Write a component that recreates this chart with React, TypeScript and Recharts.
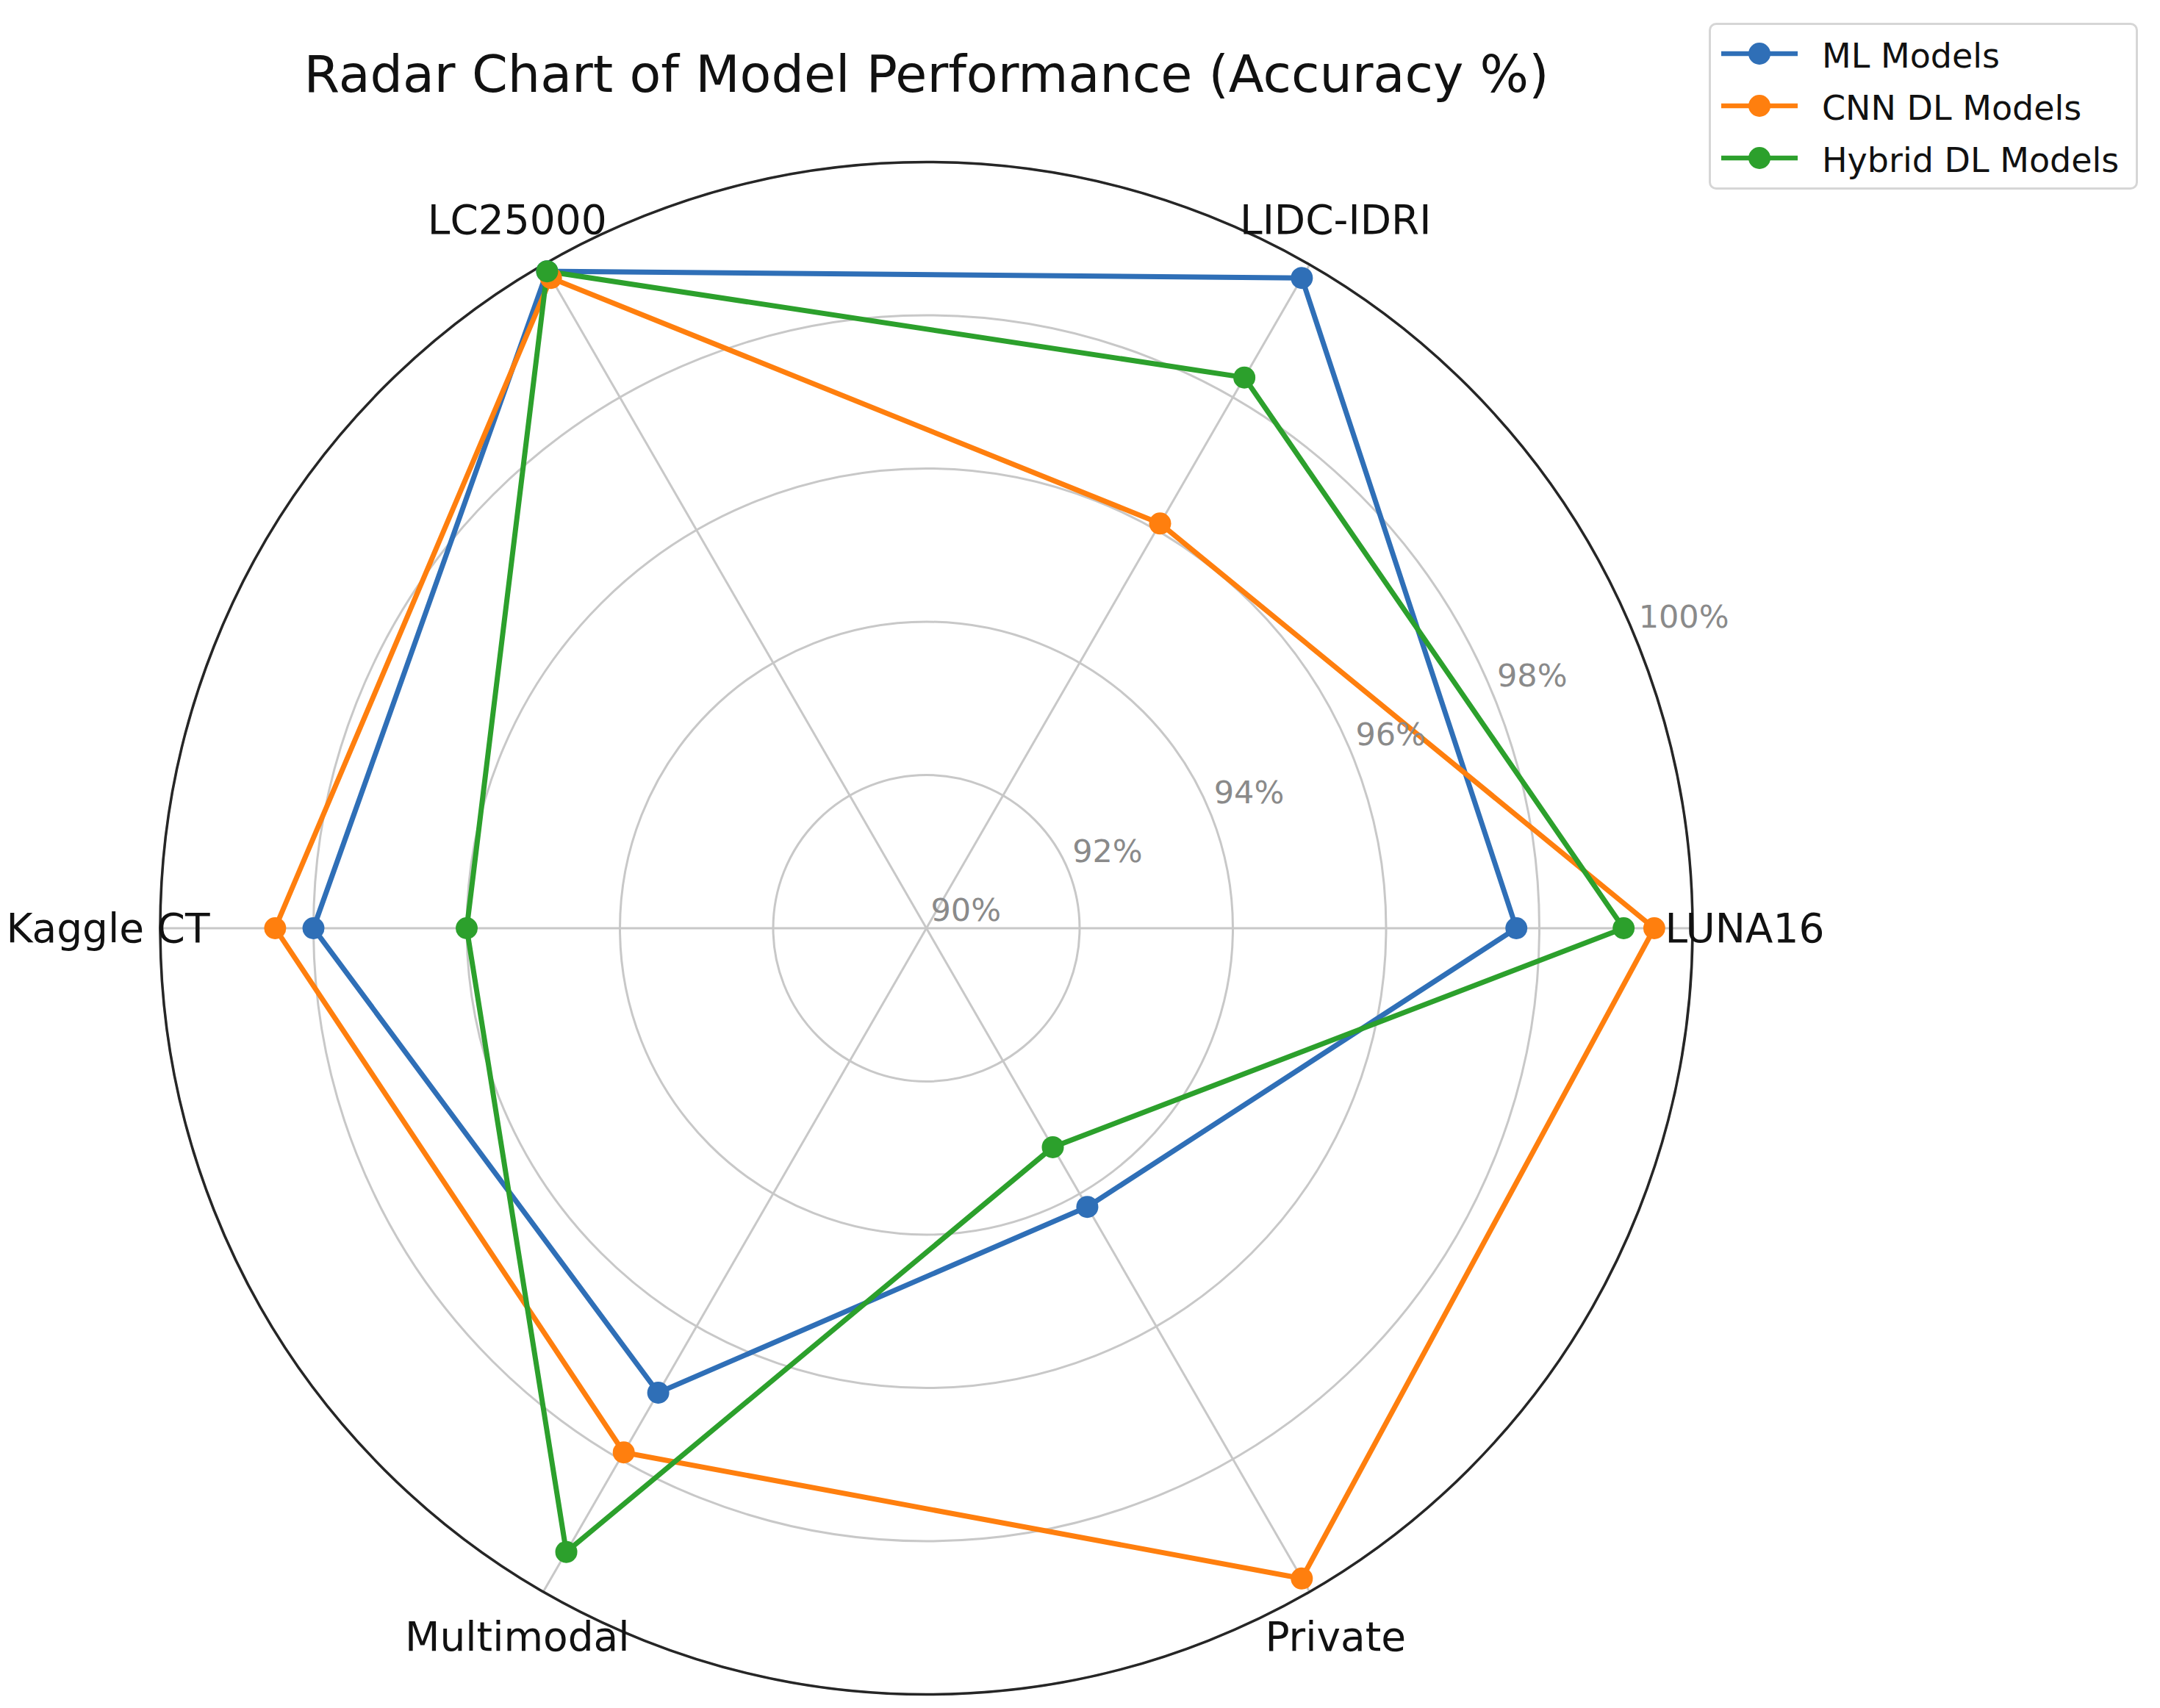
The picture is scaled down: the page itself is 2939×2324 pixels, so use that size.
import React from 'react';
import { RadarChart, Radar, PolarGrid, PolarAngleAxis, PolarRadiusAxis } from 'recharts';

// datasets in drawing order: start at the right (LUNA16) and go clockwise
// (the reference goes counter-clockwise LUNA16 -> LIDC-IDRI -> LC25000 ...)
const datasets = ['LUNA16', 'Private', 'Multimodal', 'Kaggle CT', 'LC25000', 'LIDC-IDRI'];

// accuracy % per dataset, same order as above
const mlModels = [97.7, 94.2, 97.0, 98.0, 99.9, 99.8];
const cnnModels = [99.5, 99.8, 97.9, 98.5, 99.8, 96.1];
const hybridModels = [99.1, 93.3, 99.4, 96.0, 99.9, 98.3];

const radialTicks = [90, 92, 94, 96, 98, 100];

const series = [
  { key: 'ml', label: 'ML Models', color: '#2f6fb7', values: mlModels },
  { key: 'cnn', label: 'CNN DL Models', color: '#ff7f0e', values: cnnModels },
  { key: 'hybrid', label: 'Hybrid DL Models', color: '#2ca02c', values: hybridModels },
];

const chartData = datasets.map((name, i) => {
  const row: any = { name };
  series.forEach(s => {
    row[s.key] = s.values[i];
  });
  return row;
});

const FONT = '"DejaVu Sans", Verdana, sans-serif';
const W = 2923;
const H = 2308;
const CX = 1252.5;
const CY = 1255;
const R = 1042.5;

const AngleTick = (props: any) => {
  const { x, y, payload } = props;
  return (
    <text
      x={x}
      y={y}
      textAnchor="middle"
      dominantBaseline="central"
      fontSize={55}
      fontFamily={FONT}
      fill="#111"
    >
      {payload.value}
    </text>
  );
};

const RadiusTick = (props: any) => {
  const { x, y, payload } = props;
  return (
    <text
      x={x + 6}
      y={y - 25}
      textAnchor="start"
      dominantBaseline="central"
      fontSize={43}
      fontFamily={FONT}
      fill="#8a8a8a"
    >
      {`${payload.value}%`}
    </text>
  );
};

const makeDot = (color: string) => (props: any) => (
  <circle key={`dot-${props.index}`} cx={props.cx} cy={props.cy} r={15} fill={color} />
);

const LegendBox = () => (
  <div
    style={{
      position: 'absolute',
      left: 2317,
      top: 23,
      width: 584,
      height: 227,
      boxSizing: 'border-box',
      border: '3px solid #d6d6d6',
      borderRadius: 10,
      background: '#fff',
      paddingTop: 3,
      paddingLeft: 14,
      fontFamily: FONT,
    }}
  >
    {series.map(s => (
      <div key={s.key} style={{ display: 'flex', alignItems: 'center', height: 71 }}>
        <svg width={104} height={40} style={{ flex: 'none' }}>
          <line x1={0} y1={20} x2={104} y2={20} stroke={s.color} strokeWidth={6.5} />
          <circle cx={52} cy={20} r={15} fill={s.color} />
        </svg>
        <span style={{ marginLeft: 33, fontSize: 46, color: '#111', paddingTop: 6, whiteSpace: 'nowrap' }}>
          {s.label}
        </span>
      </div>
    ))}
  </div>
);

export default function App() {
  return (
    <div style={{ position: 'relative', width: W, height: H, background: '#fff' }}>
      <div
        style={{
          position: 'absolute',
          left: CX - 1200,
          width: 2400,
          top: 58,
          textAlign: 'center',
          fontFamily: FONT,
          fontSize: 70,
          lineHeight: 1,
          color: '#111',
          whiteSpace: 'nowrap',
        }}
      >
        Radar Chart of Model Performance (Accuracy %)
      </div>
      <RadarChart
        width={W}
        height={H}
        data={chartData}
        cx={CX}
        cy={CY}
        outerRadius={R}
        startAngle={0}
        endAngle={-360}
        margin={{ top: 0, right: 0, bottom: 0, left: 0 }}
      >
        <PolarGrid gridType="circle" stroke="#c8c8c8" strokeWidth={3} />
        <PolarRadiusAxis
          type="number"
          angle={22.5}
          domain={[90, 100]}
          ticks={radialTicks}
          tickCount={6}
          axisLine={false}
          tick={RadiusTick}
        />
        <PolarAngleAxis
          dataKey="name"
          tick={AngleTick}
          tickLine={false}
          tickSize={71}
          axisLine={{ stroke: '#262626', strokeWidth: 3.5 }}
          axisLineType="circle"
        />
        {series.map(s => (
          <Radar
            key={s.key}
            name={s.label}
            dataKey={s.key}
            stroke={s.color}
            strokeWidth={7}
            fill="none"
            fillOpacity={0}
            dot={makeDot(s.color)}
            isAnimationActive={false}
          />
        ))}
      </RadarChart>
      <LegendBox />
    </div>
  );
}
